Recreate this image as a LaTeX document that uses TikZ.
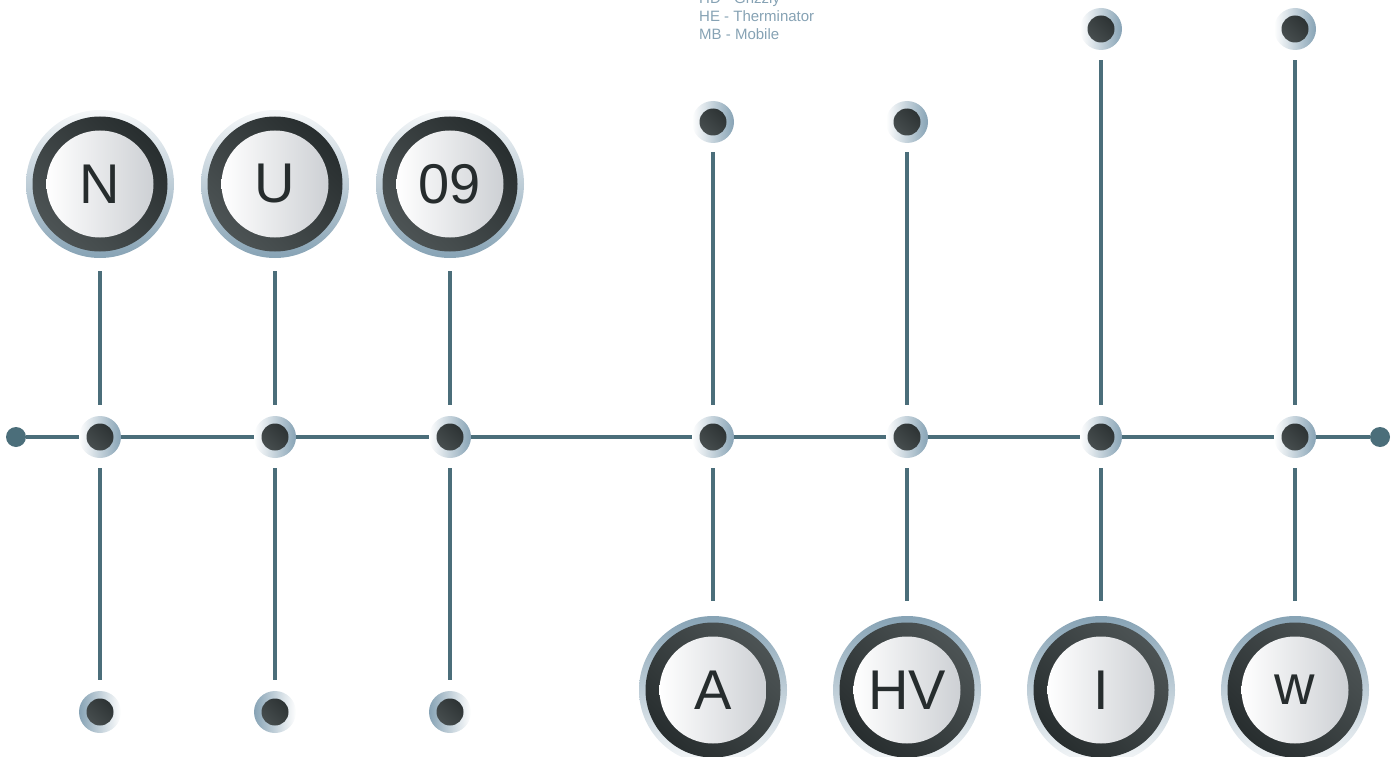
\documentclass[tikz,border=0pt]{standalone}
\usepackage{fontspec}
\setmainfont{Liberation Sans}
\usetikzlibrary{calc}
\definecolor{linec}{HTML}{4B6E7A}
\definecolor{ringblue}{HTML}{87A3B5}
\definecolor{darkA}{HTML}{262C2D}
\definecolor{darkB}{HTML}{4E5556}
\definecolor{faceg}{HTML}{CDD0D4}
\definecolor{legendc}{HTML}{86A2B4}

\begin{document}
\begin{tikzpicture}[x=1pt,y=-1pt,font=\fontsize{56}{60}\selectfont]
    \tikzstyle{line}=[linec,line width=4pt]
    \tikzstyle{end dot}=[circle,fill=linec,minimum size=20pt,inner sep=0]
    \tikzstyle{dot}=[circle,minimum size=42pt,inner sep=0,
        path picture={\shade[left color=darkA,right color=darkB,shading angle=-45]
            (path picture bounding box.center) circle (13.5);}]
    \tikzstyle{junction}=[dot,left color=white,right color=ringblue]
    \tikzstyle{top dot}=[dot,left color=white,right color=ringblue]
    \tikzstyle{bottom dot}=[dot,left color=ringblue,right color=white]
    \tikzstyle{big}=[circle,minimum size=148pt,inner sep=0,text=darkA]
    \tikzstyle{big top}=[big,top color=white!92!ringblue,bottom color=ringblue,
        path picture={
            \shade[left color=darkA,right color=darkB,shading angle=-45]
                (path picture bounding box.center) circle (67.5);
            \shade[left color=white,right color=faceg]
                (path picture bounding box.center) circle (53.5);}]
    \tikzstyle{big bottom}=[big,top color=ringblue,bottom color=white!92!ringblue,
        path picture={
            \shade[left color=darkB,right color=darkA,shading angle=-45]
                (path picture bounding box.center) circle (67.5);
            \shade[left color=white,right color=faceg]
                (path picture bounding box.center) circle (53.5);}]
    \tikzstyle{legend}=[anchor=base west,inner sep=0,text=legendc,font=\fontsize{15}{17}\selectfont]

    \useasboundingbox (0,0) rectangle (1400,757);

    % legend (first line runs off the top)
    \node(l1)[legend] at (699,4) {HD - Grizzly};
    \node(l2)[legend] at (699,22) {HE - Therminator};
    \node(l3)[legend] at (699,40) {MB - Mobile};

    % main line
    \node(e1)[end dot] at (16,437) {};
    \node(e2)[end dot] at (1380,437) {};
    \node(j1)[junction] at (100,437) {};
    \node(j2)[junction] at (275,437) {};
    \node(j3)[junction] at (450,437) {};
    \node(j4)[junction] at (713,437) {};
    \node(j5)[junction] at (907,437) {};
    \node(j6)[junction] at (1101,437) {};
    \node(j7)[junction] at (1295,437) {};

    % left group
    \node(t1)[big top] at (100,184) {N};
    \node(t2)[big top] at (275,184) {U};
    \node(t3)[big top] at (450,184) {09};
    \node(b1)[bottom dot] at (100,712) {};
    \node(b2)[bottom dot] at (275,712) {};
    \node(b3)[bottom dot] at (450,712) {};

    % right group
    \node(t4)[top dot] at (713,122) {};
    \node(t5)[top dot] at (907,122) {};
    \node(t6)[top dot] at (1101,29) {};
    \node(t7)[top dot] at (1295,29) {};
    \node(b4)[big bottom] at (713,690) {A};
    \node(b5)[big bottom] at (907,690) {HV};
    \node(b6)[big bottom] at (1101,690) {I};
    \node(b7)[big bottom] at (1295,690) {w};

    \draw[line] (e1) -- (j1) -- (j2) -- (j3) -- (j4) -- (j5) -- (j6) -- (j7) -- (e2);

    \draw[line,shorten <=11pt,shorten >=13pt] (j1) -- (t1);
    \draw[line,shorten <=11pt,shorten >=13pt] (j2) -- (t2);
    \draw[line,shorten <=11pt,shorten >=13pt] (j3) -- (t3);
    \draw[line,shorten <=10pt,shorten >=11pt] (j1) -- (b1);
    \draw[line,shorten <=10pt,shorten >=11pt] (j2) -- (b2);
    \draw[line,shorten <=10pt,shorten >=11pt] (j3) -- (b3);

    \draw[line,shorten <=11pt,shorten >=9pt] (j4) -- (t4);
    \draw[line,shorten <=11pt,shorten >=9pt] (j5) -- (t5);
    \draw[line,shorten <=11pt,shorten >=10pt] (j6) -- (t6);
    \draw[line,shorten <=11pt,shorten >=10pt] (j7) -- (t7);
    \draw[line,shorten <=10pt,shorten >=15pt] (j4) -- (b4);
    \draw[line,shorten <=10pt,shorten >=15pt] (j5) -- (b5);
    \draw[line,shorten <=10pt,shorten >=15pt] (j6) -- (b6);
    \draw[line,shorten <=10pt,shorten >=15pt] (j7) -- (b7);
\end{tikzpicture}
\end{document}
